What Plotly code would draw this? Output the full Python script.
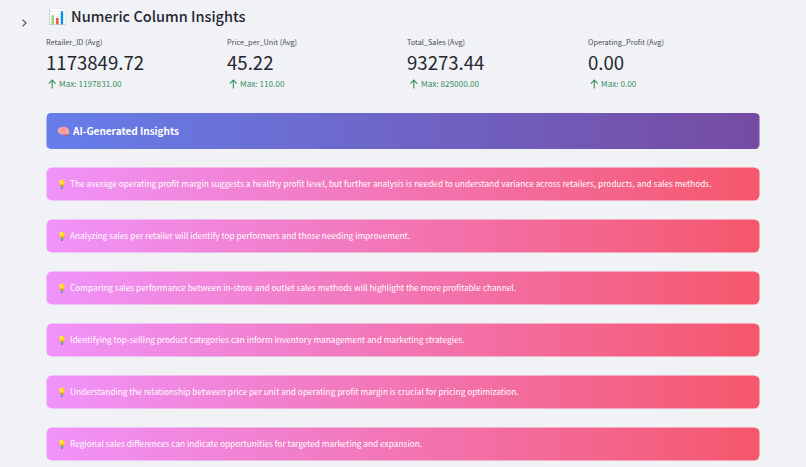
import plotly.graph_objects as go

FONT = "Noto Sans CJK SC"
BG = "#f0f2f6"
INK = "#262730"
GREEN = "#3b8f5f"

metric_labels = ["Retailer_ID (Avg)", "Price_per_Unit (Avg)", "Total_Sales (Avg)", "Operating_Profit (Avg)"]
metric_values = ["1173849.72", "45.22", "93273.44", "0.00"]
metric_maxes = ["Max: 1197831.00", "Max: 110.00", "Max: 825000.00", "Max: 0.00"]
metric_x = [46.7, 227.8, 408.3, 588.8]

insights = [
    "The average operating profit margin suggests a healthy profit level, but further analysis is needed to understand variance across retailers, products, and sales methods.",
    "Analyzing sales per retailer will identify top performers and those needing improvement.",
    "Comparing sales performance between in-store and outlet sales methods will highlight the more profitable channel.",
    "Identifying top-selling product categories can inform inventory management and marketing strategies.",
    "Understanding the relationship between price per unit and operating profit margin is crucial for pricing optimization.",
    "Regional sales differences can indicate opportunities for targeted marketing and expansion.",
]
insight_top = [167.5, 219.5, 271.5, 323.5, 375.5, 427.5]
BOX_H = 33
LEFT, RIGHT = 46.5, 759.5
PAD = 3


def rounded(x0, x1, y0, y1, r):
    c = [0, 0.38, 0.71, 0.92, 1]
    s = [1, 0.92, 0.71, 0.38, 0]
    xs, ys = [], []
    for a, b in zip(c, s):
        xs.append(x1 - r + r * a); ys.append(y0 + r - r * b)
    for a, b in zip(s, c):
        xs.append(x1 - r + r * a); ys.append(y1 - r + r * b)
    for a, b in zip(c, s):
        xs.append(x0 + r - r * a); ys.append(y1 - r + r * b)
    for a, b in zip(s, c):
        xs.append(x0 + r - r * a); ys.append(y0 + r - r * b)
    return xs + xs[:1], ys + ys[:1]


def box(x0, x1, y0, y1, r, c0, c1):
    xs, ys = rounded(x0, x1, y0, y1, r)
    return go.Scatter(
        x=xs, y=ys, mode="lines", line=dict(width=0), fill="toself",
        fillgradient=dict(type="horizontal", start=x0, stop=x1,
                          colorscale=[[0, c0], [1, c1]]),
        hoverinfo="skip", showlegend=False,
    )


fig = go.Figure()
fig.add_trace(box(LEFT, RIGHT, 113, 149, 4, "#667eea", "#764ba2"))
for top in insight_top:
    fig.add_trace(box(LEFT, RIGHT, top, top + BOX_H, 5, "#f093fb", "#f5576c"))


def txt(x, y, s, size, color, weight=400):
    fig.add_annotation(x=x - PAD, y=y - 1, text=s, xref="x", yref="y", xanchor="left", yanchor="middle",
                       showarrow=False, align="left",
                       font=dict(family=FONT, size=size, color=color, weight=weight))


def icon(path, color, width):
    fig.add_shape(type="path", path=path, xref="x", yref="y",
                  line=dict(color=color, width=width), fillcolor="rgba(0,0,0,0)")


txt(49, 16.5, "📊", 15, INK)
txt(72, 16.5, "Numeric Column Insights", 14.5, INK, 500)
icon("M22.5,19.7 L26,23 L22.5,26.3", "#4a4c57", 1.1)

for x, lab, val, mx in zip(metric_x, metric_labels, metric_values, metric_maxes):
    txt(x, 43, lab, 7.3, "#4a4c57")
    txt(x, 62.6, val, 18.6, INK)
    ax = x + 5.5
    icon(f"M{ax},88.5 L{ax},80 M{ax - 3.4},83.6 L{ax},80 L{ax + 3.4},83.6", GREEN, 1.1)
    txt(x + 13.3, 84, mx, 8.2, GREEN)

txt(57.5, 131, "🧠", 10.5, "#ffffff")
txt(73, 131, "AI-Generated Insights", 10, "#ffffff", 600)
for top, s in zip(insight_top, insights):
    txt(57.5, top + BOX_H / 2, "💡", 8, "#ffffff")
    txt(70.5, top + BOX_H / 2, s, 8.3, "#ffffff")

fig.update_layout(
    width=806, height=467, margin=dict(l=0, r=0, t=0, b=0),
    paper_bgcolor=BG, plot_bgcolor=BG, showlegend=False,
    xaxis=dict(range=[0, 806], visible=False, fixedrange=True),
    yaxis=dict(range=[467, 0], visible=False, fixedrange=True),
)
fig.write_html("out.html", config=dict(displayModeBar=False),
               post_script="document.body.style.margin='0';document.body.style.background='%s';" % BG)
